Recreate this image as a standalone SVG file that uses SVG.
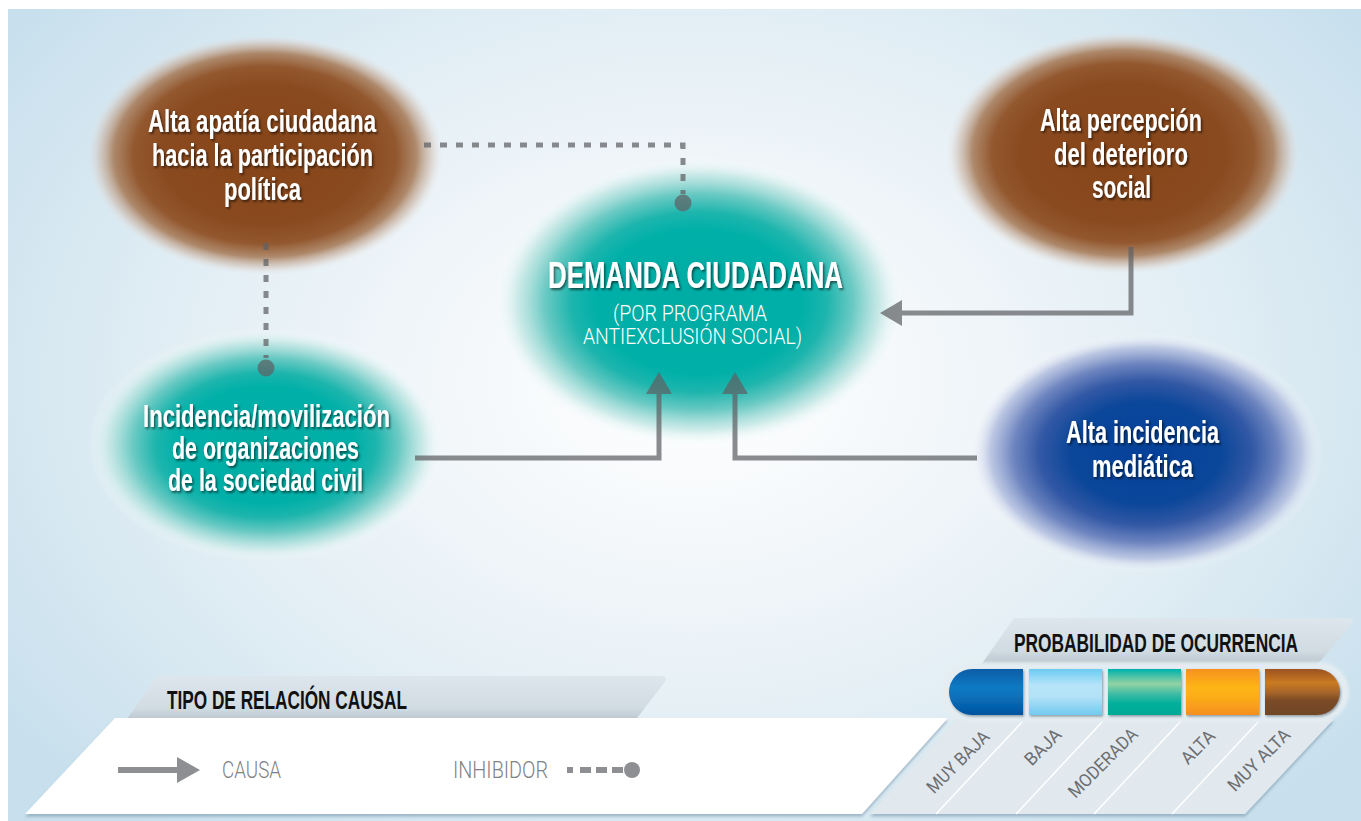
<svg xmlns="http://www.w3.org/2000/svg" width="1361" height="821" viewBox="0 0 1361 821">
<defs>
  <radialGradient id="gBg" cx="690" cy="380" r="830" gradientUnits="userSpaceOnUse" gradientTransform="translate(690 380) scale(1 0.72) translate(-690 -380)">
    <stop offset="0" stop-color="#ffffff"/>
    <stop offset="0.3" stop-color="#f3f7fa"/>
    <stop offset="0.65" stop-color="#e0edf4"/>
    <stop offset="1" stop-color="#c8e0ed"/>
  </radialGradient>
  <radialGradient id="gBrown">
    <stop offset="0" stop-color="#864518"/>
    <stop offset="0.58" stop-color="#8a4a1f"/>
    <stop offset="0.74" stop-color="#93582f"/>
    <stop offset="0.85" stop-color="#a9805f" stop-opacity="0.92"/>
    <stop offset="0.93" stop-color="#cbb5a5" stop-opacity="0.55"/>
    <stop offset="1" stop-color="#e8e4e2" stop-opacity="0"/>
  </radialGradient>
  <radialGradient id="gTeal">
    <stop offset="0" stop-color="#00aca4"/>
    <stop offset="0.5" stop-color="#00b0a8"/>
    <stop offset="0.62" stop-color="#1db5ad"/>
    <stop offset="0.75" stop-color="#6ccac4"/>
    <stop offset="0.88" stop-color="#bfe6e3" stop-opacity="0.8"/>
    <stop offset="1" stop-color="#ffffff" stop-opacity="0"/>
  </radialGradient>
  <radialGradient id="gBlue">
    <stop offset="0" stop-color="#05419a"/>
    <stop offset="0.42" stop-color="#0a4699"/>
    <stop offset="0.6" stop-color="#3258a5"/>
    <stop offset="0.75" stop-color="#6f86c0"/>
    <stop offset="0.88" stop-color="#b3bfdf" stop-opacity="0.85"/>
    <stop offset="1" stop-color="#ffffff" stop-opacity="0"/>
  </radialGradient>
  <linearGradient id="gTab" x1="0" y1="0" x2="0" y2="1">
    <stop offset="0" stop-color="#dde6ec"/>
    <stop offset="0.7" stop-color="#d1dbe2"/>
    <stop offset="1" stop-color="#b7c3cc"/>
  </linearGradient>
  <linearGradient id="s1" x1="0" y1="0" x2="0" y2="1">
    <stop offset="0" stop-color="#0a5ca8"/>
    <stop offset="0.4" stop-color="#0b7ac4"/>
    <stop offset="0.6" stop-color="#0a70bb"/>
    <stop offset="1" stop-color="#0053a0"/>
  </linearGradient>
  <linearGradient id="s2" x1="0" y1="0" x2="0" y2="1">
    <stop offset="0" stop-color="#6ccbf2"/>
    <stop offset="0.35" stop-color="#b6e4f9"/>
    <stop offset="0.6" stop-color="#b3e2f8"/>
    <stop offset="1" stop-color="#72caef"/>
  </linearGradient>
  <linearGradient id="s3" x1="0" y1="0" x2="0" y2="1">
    <stop offset="0" stop-color="#00b1ac"/>
    <stop offset="0.32" stop-color="#92d2a3"/>
    <stop offset="0.55" stop-color="#3cbba5"/>
    <stop offset="0.75" stop-color="#00b09c"/>
    <stop offset="1" stop-color="#00a996"/>
  </linearGradient>
  <linearGradient id="s4" x1="0" y1="0" x2="0" y2="1">
    <stop offset="0" stop-color="#f7921e"/>
    <stop offset="0.4" stop-color="#fdb515"/>
    <stop offset="0.6" stop-color="#fbae17"/>
    <stop offset="1" stop-color="#f58f1f"/>
  </linearGradient>
  <linearGradient id="s5" x1="0" y1="0" x2="0" y2="1">
    <stop offset="0" stop-color="#9c5322"/>
    <stop offset="0.3" stop-color="#c97a20"/>
    <stop offset="0.5" stop-color="#a9662a"/>
    <stop offset="0.68" stop-color="#7b4b27"/>
    <stop offset="1" stop-color="#704627"/>
  </linearGradient>
  <filter id="ts" x="-10%" y="-30%" width="130%" height="170%">
    <feDropShadow dx="1.5" dy="2" stdDeviation="1.3" flood-color="#000" flood-opacity="0.55"/>
  </filter>
  <filter id="sh" x="-5%" y="-10%" width="110%" height="130%">
    <feDropShadow dx="0" dy="2.5" stdDeviation="1.5" flood-color="#6f91a8" flood-opacity="0.6"/>
  </filter>
  <filter id="segsh" x="-10%" y="-20%" width="130%" height="150%">
    <feDropShadow dx="1" dy="1.5" stdDeviation="1.2" flood-color="#203040" flood-opacity="0.45"/>
  </filter>
  <filter id="glow" x="-5%" y="-20%" width="110%" height="140%">
    <feGaussianBlur stdDeviation="1.8"/>
  </filter>
  <marker id="arr" viewBox="0 0 22 26" markerWidth="22" markerHeight="26" refX="0" refY="13" orient="auto" markerUnits="userSpaceOnUse">
    <path d="M0,0 L22,13 L0,26 Z" fill="#5f6164"/>
  </marker>
  <marker id="arrL" viewBox="0 0 23 26" markerWidth="23" markerHeight="26" refX="0" refY="13" orient="auto" markerUnits="userSpaceOnUse">
    <path d="M0,0 L23,13 L0,26 Z" fill="#8e8f92"/>
  </marker>
  <style>
    .nt{font-family:"Liberation Sans",Arial,sans-serif;font-weight:700;fill:#fff;font-size:31px;filter:url(#ts)}
    .big{font-size:37px}
    .sub{font-family:Roboto,"Open Sans","Liberation Sans",sans-serif;font-weight:300;fill:#fff;font-size:22px}
    .hd{font-family:"Liberation Sans",Arial,sans-serif;font-weight:700;fill:#111;font-size:25px}
    .lg{font-family:Roboto,"Open Sans","Liberation Sans",sans-serif;font-weight:300;fill:#808285;font-size:24px}
    .rl{font-family:Roboto,"Open Sans","Liberation Sans",sans-serif;font-weight:400;fill:#6d6e71;font-size:18px}
    .conn{fill:none;stroke:#5f6164;stroke-width:5}
    .dash{stroke-dasharray:7 9}
    .dot{fill:#5f6164}
    .lconn{fill:none;stroke:#8e8f92;stroke-width:6}
    .sep{stroke:#ffffff;stroke-width:1.5}
  </style>
</defs>

<rect x="0" y="0" width="1361" height="821" fill="#ffffff"/>
<rect x="8" y="9" width="1353" height="812" fill="url(#gBg)"/>

<g id="node-apatia">
  <ellipse cx="265" cy="155" rx="178" ry="120" fill="url(#gBrown)"/>
  <text class="nt" x="148" y="132" textLength="228" lengthAdjust="spacingAndGlyphs">Alta apatía ciudadana</text>
  <text class="nt" x="152" y="166" textLength="221" lengthAdjust="spacingAndGlyphs">hacia la participación</text>
  <text class="nt" x="224" y="200" textLength="77" lengthAdjust="spacingAndGlyphs">política</text>
</g>

<g id="node-percepcion">
  <ellipse cx="1123" cy="153" rx="177" ry="121" fill="url(#gBrown)"/>
  <text class="nt" x="1040" y="131" textLength="162" lengthAdjust="spacingAndGlyphs">Alta percepción</text>
  <text class="nt" x="1054" y="165" textLength="134" lengthAdjust="spacingAndGlyphs">del deterioro</text>
  <text class="nt" x="1092" y="198" textLength="59" lengthAdjust="spacingAndGlyphs">social</text>
</g>

<g id="node-demanda">
  <ellipse cx="699" cy="302" rx="206" ry="145" fill="url(#gTeal)"/>
  <text class="nt big" x="548" y="288" textLength="295" lengthAdjust="spacingAndGlyphs">DEMANDA CIUDADANA</text>
  <text class="sub" x="613" y="321" textLength="154" lengthAdjust="spacingAndGlyphs">(POR PROGRAMA</text>
  <text class="sub" x="583" y="344" textLength="219" lengthAdjust="spacingAndGlyphs">ANTIEXCLUSIÓN SOCIAL)</text>
</g>

<g id="node-incidencia">
  <ellipse cx="266" cy="445" rx="178" ry="117" fill="url(#gTeal)"/>
  <text class="nt" x="143" y="427" textLength="247" lengthAdjust="spacingAndGlyphs">Incidencia/movilización</text>
  <text class="nt" x="172" y="459" textLength="187" lengthAdjust="spacingAndGlyphs">de organizaciones</text>
  <text class="nt" x="168" y="491" textLength="195" lengthAdjust="spacingAndGlyphs">de la sociedad civil</text>
</g>

<g id="node-mediatica">
  <ellipse cx="1146" cy="453" rx="177" ry="120" fill="url(#gBlue)"/>
  <text class="nt" x="1066" y="443" textLength="153" lengthAdjust="spacingAndGlyphs">Alta incidencia</text>
  <text class="nt" x="1092" y="477" textLength="101" lengthAdjust="spacingAndGlyphs">mediática</text>
</g>

<g id="connectors" opacity="0.72">
  <path class="conn dash" d="M424,145 H683 V194"/>
  <circle class="dot" cx="683" cy="203" r="8.5"/>
  <path class="conn dash" d="M266,243 V358"/>
  <circle class="dot" cx="266" cy="368" r="8.5"/>
  <path class="conn" d="M1131,247 V313 H902" marker-end="url(#arr)"/>
  <path class="conn" d="M415,458 H659 V394" marker-end="url(#arr)"/>
  <path class="conn" d="M977,458 H735 V394" marker-end="url(#arr)"/>
</g>

<g id="legend-causal">
  <path d="M157,676 H660 Q669,676 664,683 L634,722 H125 Z" fill="url(#gTab)"/>
  <polygon points="115,718 948,718 862,814 25,814" fill="#ffffff" filter="url(#sh)"/>
  <text class="hd" x="167" y="709" textLength="240" lengthAdjust="spacingAndGlyphs">TIPO DE RELACIÓN CAUSAL</text>
  <path class="lconn" d="M118,770 H177" marker-end="url(#arrL)"/>
  <text class="lg" x="222" y="778" textLength="59" lengthAdjust="spacingAndGlyphs">CAUSA</text>
  <text class="lg" x="453" y="778" textLength="95" lengthAdjust="spacingAndGlyphs">INHIBIDOR</text>
  <path class="lconn" d="M567,770 H624" style="stroke-dasharray:6 7 11 5 11 5 11 5"/>
  <circle cx="632" cy="770" r="8" fill="#8e8f92"/>
</g>

<g id="legend-probabilidad">
  <path d="M1014,618 H1347 Q1357,618 1351,625 L1317,665 H981 Z" fill="url(#gTab)"/>
  <text class="hd" x="1014" y="652" textLength="284" lengthAdjust="spacingAndGlyphs">PROBABILIDAD DE OCURRENCIA</text>
  <polygon points="957,719 1334,719 1245,814 870,814" fill="#e1e9ee" filter="url(#sh)"/>
  <line class="sep" x1="1023" y1="721" x2="936" y2="814"/>
  <line class="sep" x1="1103" y1="721" x2="1016" y2="814"/>
  <line class="sep" x1="1181" y1="721" x2="1094" y2="814"/>
  <line class="sep" x1="1259" y1="721" x2="1172" y2="814"/>
  <rect x="941" y="662" width="408" height="60" rx="30" fill="#e4edf2" opacity="0.95" filter="url(#glow)"/>
  <g filter="url(#segsh)">
    <path d="M972,669 H1023 V715 H972 A23,23 0 0 1 972,669 Z" fill="url(#s1)"/>
    <rect x="1029" y="669" width="73" height="46" fill="url(#s2)"/>
    <rect x="1108" y="669" width="73" height="46" fill="url(#s3)"/>
    <rect x="1186" y="669" width="73" height="46" fill="url(#s4)"/>
    <path d="M1265,669 H1317 A23,23 0 0 1 1317,715 H1265 Z" fill="url(#s5)"/>
  </g>
  <text class="rl" transform="translate(958 762) rotate(-45)" x="-40" y="6" textLength="80" lengthAdjust="spacingAndGlyphs">MUY BAJA</text>
  <text class="rl" transform="translate(1043 747) rotate(-45)" x="-22" y="6" textLength="44" lengthAdjust="spacingAndGlyphs">BAJA</text>
  <text class="rl" transform="translate(1103 763) rotate(-45)" x="-45" y="6" textLength="90" lengthAdjust="spacingAndGlyphs">MODERADA</text>
  <text class="rl" transform="translate(1198 747) rotate(-45)" x="-20" y="6" textLength="40" lengthAdjust="spacingAndGlyphs">ALTA</text>
  <text class="rl" transform="translate(1259 760) rotate(-45)" x="-40" y="6" textLength="80" lengthAdjust="spacingAndGlyphs">MUY ALTA</text>
</g>
</svg>
